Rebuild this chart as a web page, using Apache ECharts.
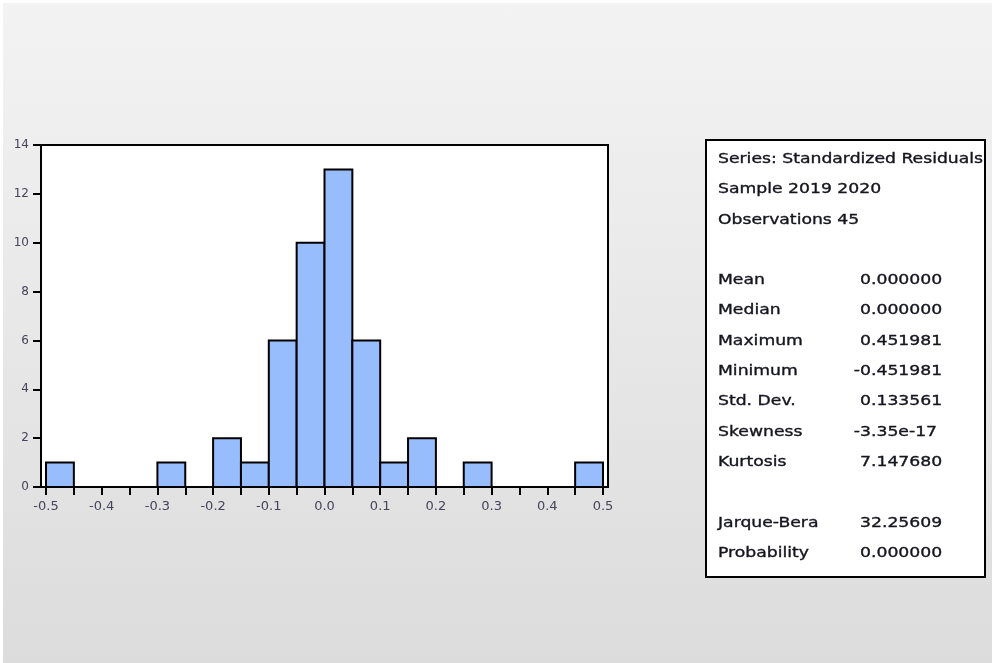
<!DOCTYPE html>
<html>
<head>
<meta charset="utf-8">
<script src="https://cdn.jsdelivr.net/npm/echarts@6/dist/echarts.min.js"></script>
<style>
  html, body { margin: 0; padding: 0; background: #fff; }
  #chart {
    width: 992px; height: 663px;
    background: linear-gradient(#f3f3f3, #dcdcdc) 3px 3px / 989px 660px no-repeat, #fff;
  }
</style>
</head>
<body>
<div id="chart"></div>
<script>
// histogram bins (width 0.05)
const binStarts = [-0.5, -0.45, -0.4, -0.35, -0.3, -0.25, -0.2, -0.15, -0.1, -0.05,
  0, 0.05, 0.1, 0.15, 0.2, 0.25, 0.3, 0.35, 0.4, 0.45];
const binWidth = 0.05;
const counts = [1, 0, 0, 0, 1, 0, 2, 1, 6, 10, 13, 6, 1, 2, 0, 1, 0, 0, 0, 1];

const xLabelValues = [-0.5, -0.4, -0.3, -0.2, -0.1, 0, 0.1, 0.2, 0.3, 0.4, 0.5];
const xTickValues = [-0.5, -0.45, -0.4, -0.35, -0.3, -0.25, -0.2, -0.15, -0.1, -0.05,
  0, 0.05, 0.1, 0.15, 0.2, 0.25, 0.3, 0.35, 0.4, 0.45, 0.5];

// stats panel
const headerLines = ['Series: Standardized Residuals', 'Sample 2019 2020', 'Observations 45'];
const statNames = ['Mean', 'Median', 'Maximum', 'Minimum', 'Std. Dev.', 'Skewness', 'Kurtosis'];
const statValues = ['0.000000', '0.000000', '0.451981', '-0.451981', '0.133561', '-3.35e-17', '7.147680'];
const testNames = ['Jarque-Bera', 'Probability'];
const testValues = ['32.25609', '0.000000'];

const chart = echarts.init(document.getElementById('chart'));

const FONT = '14px "DejaVu Sans"';
const SX = 1.23;      // the screenshot text is stretched wide
const rowH = 30.3;
const firstRow = 159.3;

function textEl(str, x, row) {
  let dx = 0;
  if (str.charAt(0) === '-' && x > 800) dx = -6.2; // minus hangs left of the column
  return {
    type: 'text',
    x: x + dx,
    y: firstRow + row * rowH,
    scaleX: SX,
    silent: true,
    style: {
      text: str,
      font: FONT,
      fill: '#15151f',
      stroke: '#15151f',
      lineWidth: 0.35,
      textAlign: 'left',
      textVerticalAlign: 'middle'
    }
  };
}

const panel = [{
  type: 'rect',
  shape: { x: 706, y: 140, width: 279, height: 437 },
  style: { fill: '#fff', stroke: '#000', lineWidth: 2 },
  silent: true
}];
headerLines.forEach((s, i) => panel.push(textEl(s, 718, i)));
statNames.forEach((s, i) => {
  panel.push(textEl(s, 718, 4 + i));
  panel.push(textEl(statValues[i], 860, 4 + i));
});
testNames.forEach((s, i) => {
  panel.push(textEl(s, 718, 12 + i));
  panel.push(textEl(testValues[i], 860, 12 + i));
});

const histData = binStarts.map((s, i) => [s, s + binWidth, counts[i]]);

const option = {
  backgroundColor: 'transparent',
  animation: false,
  grid: {
    left: 41, top: 145, width: 567, height: 342,
    show: true,
    backgroundColor: '#fff',
    borderColor: '#000',
    borderWidth: 2
  },
  xAxis: {
    type: 'value',
    min: -0.509,
    max: 0.509,
    splitLine: { show: false },
    axisLine: { show: false, onZero: false },
    axisTick: {
      show: true,
      customValues: xTickValues,
      length: 8,
      lineStyle: { color: '#000', width: 2 }
    },
    axisLabel: {
      customValues: xLabelValues,
      margin: 13,
      color: '#44445a',
      fontFamily: 'DejaVu Sans',
      fontSize: 13,
      formatter: v => v.toFixed(1)
    }
  },
  yAxis: {
    type: 'value',
    min: 0,
    max: 14,
    interval: 2,
    splitLine: { show: false },
    axisLine: { show: false, onZero: false },
    axisTick: {
      show: true,
      length: 8,
      lineStyle: { color: '#000', width: 2 }
    },
    axisLabel: {
      margin: 12,
      color: '#44445a',
      fontFamily: 'DejaVu Sans',
      fontSize: 12
    }
  },
  series: [{
    type: 'custom',
    data: histData,
    encode: { x: [0, 1], y: 2 },
    renderItem: (params, api) => {
      const n = api.value(2);
      if (!n) return null;
      const p0 = api.coord([api.value(0), 0]);
      const p1 = api.coord([api.value(1), n]);
      return {
        type: 'rect',
        shape: { x: p0[0], y: p1[1], width: p1[0] - p0[0], height: p0[1] - p1[1] },
        style: { fill: '#97bdfd', stroke: '#000', lineWidth: 2 }
      };
    }
  }],
  graphic: panel
};

chart.setOption(option);
</script>
</body>
</html>
